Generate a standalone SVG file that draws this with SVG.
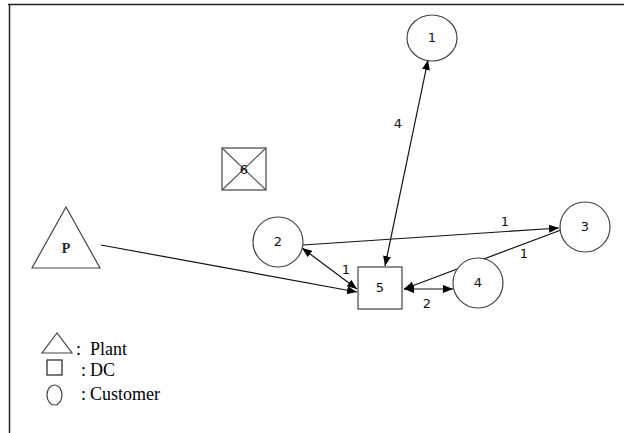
<svg xmlns="http://www.w3.org/2000/svg" width="624" height="433" viewBox="0 0 624 433">
<defs>
<marker id="ah" viewBox="0 0 10 8" refX="10" refY="4" markerWidth="10" markerHeight="8" markerUnits="userSpaceOnUse" orient="auto-start-reverse">
<path d="M0,0 L10,4 L0,8 z" fill="#000"/>
</marker>
<style>
.node{fill:#fff;stroke:#444;stroke-width:1.2}
.edge{stroke:#111;stroke-width:1.2;fill:none}
.num{font-family:"DejaVu Sans",Verdana,sans-serif;font-size:13px;fill:#111;text-anchor:middle}
.leg{font-family:"Liberation Serif","Times New Roman",serif;font-size:18px;fill:#000}
</style>
</defs>
<rect width="624" height="433" fill="#fff"/>
<path d="M8,4.5 H624 M9.5,4 V433" stroke="#222" stroke-width="1.5" fill="none"/>
<g id="connectors">
<line class="edge" x1="101" y1="245" x2="357" y2="292" marker-end="url(#ah)"/>
<line class="edge" x1="385" y1="266" x2="428" y2="60" marker-start="url(#ah)" marker-end="url(#ah)"/>
<line class="edge" x1="303" y1="245" x2="559" y2="228" marker-end="url(#ah)"/>
<line class="edge" x1="561" y1="230" x2="404" y2="289" marker-end="url(#ah)"/>
<line class="edge" x1="404" y1="289" x2="453" y2="289" marker-start="url(#ah)" marker-end="url(#ah)"/>
<line class="edge" x1="357" y1="289" x2="302" y2="248" marker-start="url(#ah)" marker-end="url(#ah)"/>
<text class="num" x="398" y="128">4</text>
<text class="num" x="505" y="226">1</text>
<text class="num" x="524" y="258">1</text>
<text class="num" x="346" y="274">1</text>
<text class="num" x="427" y="308">2</text>
</g>
<g id="node1">
<ellipse class="node" cx="432" cy="38" rx="25" ry="23"/>
<text class="num" x="432" y="42">1</text>
</g>
<g id="node6">
<rect class="node" x="222" y="148" width="44" height="42"/>
<path d="M222,148 L266,190 M266,148 L222,190" stroke="#555" stroke-width="1.2"/>
<text class="num" x="244" y="174">6</text>
</g>
<g id="nodeP">
<polygon class="node" points="66,207 32,268 100,268"/>
<text x="66" y="253" font-family="Liberation Serif,serif" font-size="14" font-weight="bold" text-anchor="middle" fill="#222">P</text>
</g>
<g id="node2">
<circle class="node" cx="278" cy="242" r="25"/>
<text class="num" x="278" y="246">2</text>
</g>
<g id="node3">
<circle class="node" cx="585" cy="227" r="25"/>
<text class="num" x="585" y="231">3</text>
</g>
<g id="node4">
<circle class="node" cx="478" cy="283" r="25"/>
<text class="num" x="478" y="287">4</text>
</g>
<g id="node5">
<rect class="node" x="358" y="267" width="44" height="42"/>
<text class="num" x="380" y="292">5</text>
</g>
<g id="legend">
<polygon points="57,333 42,353 72,353" fill="#fff" stroke="#444" stroke-width="1.2"/>
<rect x="47" y="360" width="15" height="15" fill="#fff" stroke="#222" stroke-width="1.2"/>
<ellipse cx="54.5" cy="395" rx="7.5" ry="10" fill="#fff" stroke="#444" stroke-width="1.2"/>
<text class="leg" x="76" y="355">:</text>
<text class="leg" x="90" y="355">Plant</text>
<text class="leg" x="81" y="376">:</text>
<text class="leg" x="90" y="376">DC</text>
<text class="leg" x="81" y="400">:</text>
<text class="leg" x="90" y="400">Customer</text>
</g>
</svg>
